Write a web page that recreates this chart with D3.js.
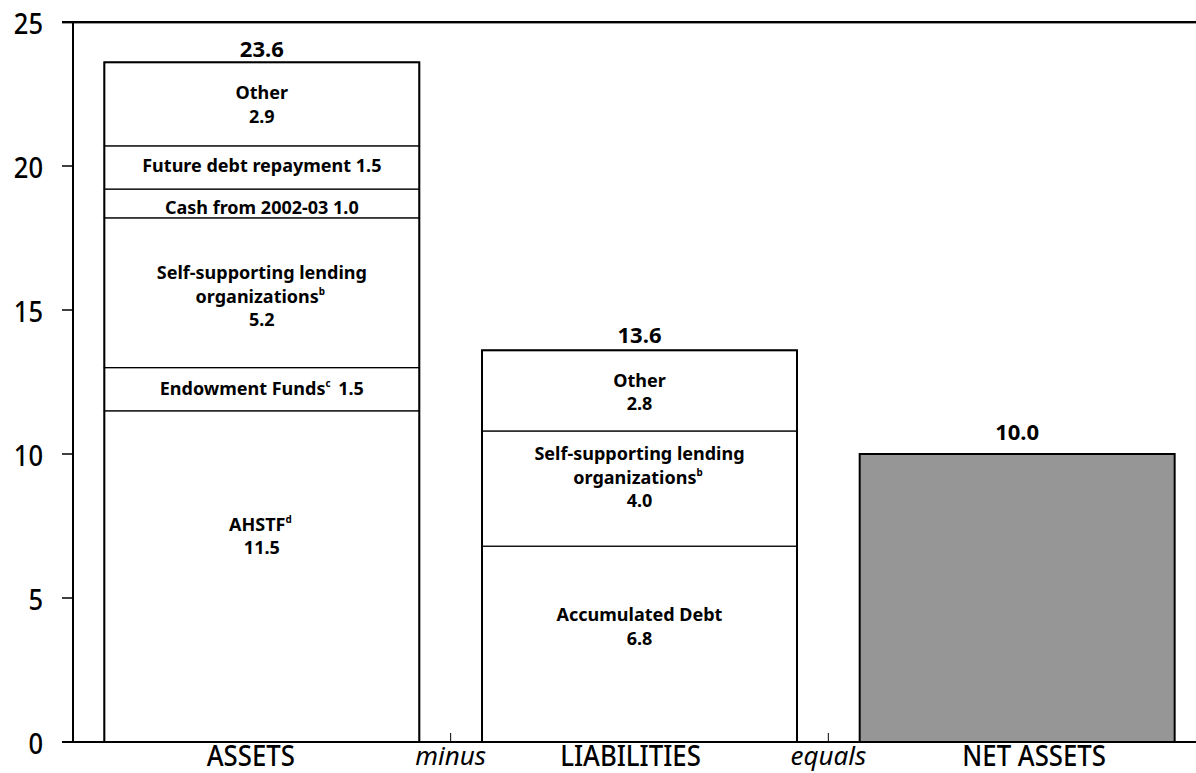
<!DOCTYPE html>
<html>
<head>
<meta charset="utf-8">
<script src="https://cdn.jsdelivr.net/npm/d3@7"></script>
<style>
  html, body { margin: 0; padding: 0; background: #fff; }
  svg { display: block; }
  text { font-family: "Noto Sans", "Open Sans", sans-serif; fill: #000; }
</style>
</head>
<body>
<svg id="chart" width="1196" height="773"></svg>
<script>
// ---------- data ----------
const categories = ["ASSETS", "LIABILITIES", "NET ASSETS"];
const operators = ["minus", "equals"];
const yTicks = [0, 5, 10, 15, 20, 25];

const assetSegments = ["AHSTF^d", "Endowment Funds^c", "Self-supporting lending|organizations^b", "Cash from 2002-03", "Future debt repayment", "Other"];
const assetValues = [11.5, 1.5, 5.2, 1.0, 1.5, 2.9];
const assetInline = [false, true, false, true, true, false];

const liabilitySegments = ["Accumulated Debt", "Self-supporting lending|organizations^b", "Other"];
const liabilityValues = [6.8, 4.0, 2.8];
const liabilityInline = [false, false, false];

const netAssetValues = [10.0];
const totals = [23.6, 13.6, 10.0];

// ---------- layout ----------
const svg = d3.select("#chart");
const fmt = d3.format(".1f");

const y = d3.scaleLinear().domain([0, 25]).range([742, 22]);
const x = d3.scaleBand().domain(categories).range([73, 1206]).paddingInner(0.166).paddingOuter(0.083);

function addText(g, px, py, opts) {
  const t = g.append("text")
    .attr("transform", `translate(${px},${py}) scale(${opts.sx || 1},1)`)
    .attr("text-anchor", opts.anchor || "middle")
    .attr("dominant-baseline", opts.baseline || "central")
    .style("font-size", opts.size + "px")
    .style("font-weight", opts.weight || "normal")
    .style("font-style", opts.style || "normal");
  const parts = opts.text.split(/\^(\w)/);
  parts.forEach((p, i) => {
    if (p === "") return;
    if (i % 2 === 1) {
      t.append("tspan").attr("dy", -5).style("font-size", (opts.size * 0.55) + "px").text(p);
      t.append("tspan").attr("dy", 5).text("\u2009");
    } else {
      t.append("tspan").text(p);
    }
  });
  return t;
}

// ---------- stacked bars ----------
function stackBar(cat, names, values, inline, dyOffsets) {
  const g = svg.append("g");
  let base = 0;
  const x0 = x(cat), bw = x.bandwidth();
  values.forEach((v, i) => {
    const top = base + v;
    g.append("rect")
      .attr("x", x0).attr("width", bw)
      .attr("y", y(top)).attr("height", y(base) - y(top))
      .attr("fill", "#fff").attr("stroke", "#000").attr("stroke-width", 1.2);
    const cx = x0 + bw / 2;
    const cy = (y(base) + y(top)) / 2 + dyOffsets[i];
    let lines;
    if (inline[i]) {
      lines = [names[i].replace("|", " ") + " " + fmt(v)];
    } else {
      lines = names[i].split("|").concat([fmt(v)]);
    }
    const lh = 23.5;
    lines.forEach((ln, j) => {
      addText(g, cx, cy + (j - (lines.length - 1) / 2) * lh, { text: ln, size: 18, weight: "bold", sx: 1.0 });
    });
    base = top;
  });
  g.append("rect")
    .attr("x", x0).attr("width", bw)
    .attr("y", y(base)).attr("height", y(0) - y(base))
    .attr("fill", "none").attr("stroke", "#000").attr("stroke-width", 2);
}

stackBar("ASSETS", assetSegments, assetValues, assetInline, [-41, -1, 3, 4, -2, 0]);
stackBar("LIABILITIES", liabilitySegments, liabilityValues, liabilityInline, [-18, -12, 1]);

// net assets single bar
svg.append("g").selectAll("rect").data(netAssetValues).join("rect")
  .attr("x", x("NET ASSETS")).attr("width", x.bandwidth())
  .attr("y", d => y(d)).attr("height", d => y(0) - y(d))
  .attr("fill", "#969696").attr("stroke", "#000").attr("stroke-width", 2);

// totals
const totalOffsets = [-14, -16, -23];
svg.append("g").selectAll("g").data(totals).join("g").each(function(d, i) {
  addText(d3.select(this), x(categories[i]) + x.bandwidth() / 2, y(d) + totalOffsets[i],
    { text: fmt(d), size: 21, weight: "bold", sx: 1.05 });
});

// ---------- axes ----------
const axisG = svg.append("g");
axisG.append("line").attr("x1", 62).attr("x2", 1196).attr("y1", y(25) + 1.5).attr("y2", y(25) + 1.5)
  .attr("stroke", "#999").attr("stroke-width", 1);
axisG.append("line").attr("x1", 62).attr("x2", 1196).attr("y1", y(25)).attr("y2", y(25))
  .attr("stroke", "#000").attr("stroke-width", 2);
axisG.append("line").attr("x1", 73).attr("x2", 73).attr("y1", y(25)).attr("y2", y(0))
  .attr("stroke", "#000").attr("stroke-width", 2);
axisG.append("line").attr("x1", 62).attr("x2", 1196).attr("y1", y(0)).attr("y2", y(0))
  .attr("stroke", "#000").attr("stroke-width", 2);

yTicks.forEach(t => {
  axisG.append("line").attr("x1", 62).attr("x2", 73).attr("y1", y(t)).attr("y2", y(t))
    .attr("stroke", "#000").attr("stroke-width", 1.5);
  addText(axisG, 43, y(t), { text: String(t), size: 29, anchor: "end", sx: 0.88, weight: 500 });
});

const opX = operators.map((o, i) => (x(categories[i]) + x.bandwidth() + x(categories[i + 1])) / 2);
operators.forEach((o, i) => {
  axisG.append("line").attr("x1", opX[i]).attr("x2", opX[i]).attr("y1", y(0) - 9).attr("y2", y(0))
    .attr("stroke", "#000").attr("stroke-width", 1);
  addText(axisG, opX[i], 765, { text: o, size: 26, style: "italic", baseline: "alphabetic", sx: 1.0 });
});

const catDx = [-11, -9, 17];
categories.forEach((c, i) => {
  addText(axisG, x(c) + x.bandwidth() / 2 + catDx[i], 766, { text: c, size: 28, baseline: "alphabetic", sx: 0.92, weight: 500 });
});
</script>
</body>
</html>
